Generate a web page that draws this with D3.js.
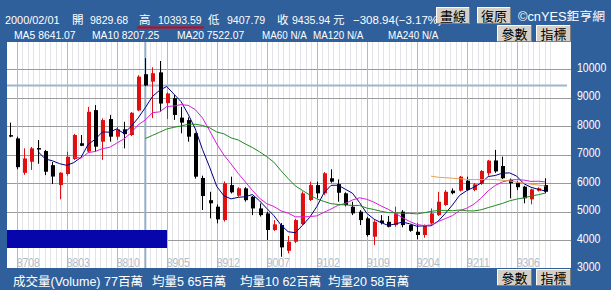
<!DOCTYPE html>
<html lang="zh-Hant">
<head>
<meta charset="UTF-8">
<title>加權指數 月線</title>
<script src="https://d3js.org/d3.v7.min.js"></script>
<style>
  body { margin: 0; background: #30609c; }
  svg text { font-family: "Liberation Sans", "Noto Sans CJK TC", sans-serif; }
</style>
</head>
<body>
<svg id="chart" width="611" height="290"></svg>
<script>
// monthly candles, ROC year + month
const months = [
  "8707","8708","8709","8710","8711","8712",
  "8801","8802","8803","8804","8805","8806","8807","8808","8809","8810","8811","8812",
  "8901","8902","8903","8904","8905","8906","8907","8908","8909","8910","8911","8912",
  "9001","9002","9003","9004","9005","9006","9007","9008","9009","9010","9011","9012",
  "9101","9102","9103","9104","9105","9106","9107","9108","9109","9110","9111","9112",
  "9201","9202","9203","9204","9205","9206","9207","9208","9209","9210","9211","9212",
  "9301","9302","9303","9304","9305","9306","9307","9308","9309","9310"
];
const open = [7690,7575,6365,6755,7235,7130,6635,5935,6325,6850,
  7405,7115,8570,7460,8255,7635,7895,7695,8560,9830,
  9570,9895,8815,8990,8305,8220,7755,6185,5405,5175,
  4705,5935,5560,5820,5525,5115,4940,4355,4530,3625,
  3945,4565,5410,5935,5645,6175,5970,5645,5175,5000,
  4765,4120,4690,4645,4530,5000,4530,4295,4180,4590,
  4880,5235,5740,5740,6090,5760,5975,6350,6800,6605,
  6115,6020,5880,5435,5740,5935];
const high = [8130,7635,7225,7275,7515,7170,6745,6385,7110,7735,
  7695,8685,8745,8280,8400,7980,8160,8505,9795,10394,
  10075,10295,9190,9100,8685,8315,7775,6265,5700,5255,
  6065,6230,5860,5860,5555,5290,5000,4705,4600,4145,
  4750,5710,6055,6055,6395,6490,6135,5680,5350,5055,
  4820,4700,4880,4850,5175,5055,4550,4590,4550,5115,
  5700,5760,5820,6255,6230,6010,6465,6820,7170,6935,
  6165,6065,5910,5810,5860,6175];
const low = [7615,6490,6295,6465,6685,6285,5970,5435,6265,6815,
  7305,7075,7110,6820,7460,7525,7225,7655,8530,9408,
  8285,8515,8260,8225,7755,7460,6165,5060,4765,4590,
  4650,5640,5525,5355,4880,4830,4005,4325,3415,3535,
  3895,4530,5375,5470,5590,6015,5350,5185,4880,4530,
  4125,3825,4550,4450,4470,4450,4295,4030,4085,4550,
  4850,5205,5610,5710,5740,5720,5940,6265,6365,6145,
  5470,5760,5295,5260,5710,5645];
const close = [7670,6565,6870,7225,7200,6405,6235,6370,6930,7695,
  7315,8510,7285,8220,7635,7895,7725,8475,9745,9436,
  9865,8800,9155,8400,8130,7635,6230,5550,5295,4730,
  5995,5680,5820,5405,5115,4880,4355,4555,3745,3945,
  4705,5645,5935,5645,6350,6055,5665,5235,4940,4705,
  4180,4645,4600,4470,4940,4530,4330,4180,4530,4940,
  5350,5700,5650,6230,5760,5960,6430,6795,6415,6175,
  6000,5860,5470,5785,5820,5700];

const tickLabels = ["8708","8803","8810","8905","8912","9007","9102","9109","9204","9211","9306"];
const priceTicks = [3000,4000,5000,6000,7000,8000,9000,10000];

const maPeriods = [5, 10, 20, 60];
const maColors = ["#000080", "#d81ed8", "#1f8a1f", "#e3a452"];
const maHeader = ["MA5 8641.07", "MA10 8207.25", "MA20 7522.07", "MA60 N/A", "MA120 N/A", "MA240 N/A"];
const volText = ["成交量(Volume) 77百萬", "均量5 65百萬", "均量10 62百萬", "均量20 58百萬"];

const selDate = "2000/02/01";
const selIdx = 19;
const prevClose = 9744.88;
const selOHLC = [9829.68, 10393.59, 9407.79, 9435.94];

const svg = d3.select("#chart");
const W = 611, H = 290;
const plot = { left: 7, right: 571, top: 42, bottom: 268 };

const x = d3.scalePoint().domain(months).range([9.6, 545.3]);
const y = d3.scaleLinear().domain([3000, 10000]).range([268.6, 69.4]);

svg.append("rect").attr("width", W).attr("height", H).attr("fill", "#30609c");
svg.append("rect")
  .attr("x", plot.left).attr("y", plot.top)
  .attr("width", plot.right - plot.left).attr("height", plot.bottom - plot.top)
  .attr("fill", "#fff");

svg.append("clipPath").attr("id", "clip").append("rect")
  .attr("x", plot.left).attr("y", plot.top)
  .attr("width", plot.right - plot.left).attr("height", plot.bottom - plot.top);

const g = svg.append("g").attr("clip-path", "url(#clip)");

// thin vertical lines
const step = (x(months[8]) - x(months[1])) / 9;
g.selectAll(".minor")
  .data(d3.range(0, 97))
  .enter().append("line")
  .attr("x1", d => Math.round(x(months[1]) + d * step) + 0.5)
  .attr("x2", d => Math.round(x(months[1]) + d * step) + 0.5)
  .attr("y1", plot.top).attr("y2", plot.bottom)
  .attr("stroke", "#e3e4ea").attr("stroke-width", 1);

// horizontal grid
g.selectAll(".hgrid")
  .data(priceTicks)
  .enter().append("line")
  .attr("x1", plot.left).attr("x2", plot.right)
  .attr("y1", d => Math.round(y(d)) + 0.5).attr("y2", d => Math.round(y(d)) + 0.5)
  .attr("stroke", "#9a9a9a");

// major vertical grid
g.selectAll(".vgrid")
  .data(tickLabels)
  .enter().append("line")
  .attr("x1", d => Math.round(x(d)) + 0.5).attr("x2", d => Math.round(x(d)) + 0.5)
  .attr("y1", plot.top).attr("y2", plot.bottom)
  .attr("stroke", "#a9bccd");

// crosshair
g.append("line")
  .attr("x1", x(months[selIdx])).attr("x2", x(months[selIdx]))
  .attr("y1", plot.top).attr("y2", plot.bottom)
  .attr("stroke", "#95aec6").attr("stroke-width", 2);
g.append("line")
  .attr("x1", plot.left).attr("x2", 567)
  .attr("y1", y(close[selIdx])).attr("y2", y(close[selIdx]))
  .attr("stroke", "#9fb5ca").attr("stroke-width", 2);

// bottom-left blue bar
svg.append("rect")
  .attr("x", plot.left).attr("y", 230).attr("width", 160).attr("height", 18)
  .attr("fill", "#0606aa");

// x labels
svg.selectAll(".xlab")
  .data(tickLabels)
  .enter().append("text")
  .attr("x", d => x(d)).attr("y", 266.5)
  .attr("font-size", 13)
  .attr("textLength", 23).attr("lengthAdjust", "spacingAndGlyphs")
  .attr("fill", "#b2bac6")
  .text(d => d);

// candles
const candles = months.map((m, i) => ({ m, o: open[i], h: high[i], l: low[i], c: close[i] }));
const cg = g.selectAll(".candle").data(candles).enter().append("g");
cg.append("line")
  .attr("x1", d => Math.round(x(d.m)) + 0.5).attr("x2", d => Math.round(x(d.m)) + 0.5)
  .attr("y1", d => y(d.h)).attr("y2", d => y(d.l))
  .attr("stroke", d => d.c >= d.o ? "#e01010" : "#000");
cg.append("rect")
  .attr("x", d => Math.round(x(d.m)) - 1)
  .attr("width", 4)
  .attr("y", d => y(Math.max(d.o, d.c)))
  .attr("height", d => Math.max(1.5, Math.abs(y(d.o) - y(d.c))))
  .attr("fill", d => d.c >= d.o ? "#e01010" : "#000");

// moving averages
maPeriods.forEach((n, k) => {
  const vals = close.map((c, i) => i < n - 1 ? null : d3.mean(close.slice(i - n + 1, i + 1)));
  const line = d3.line()
    .defined(d => d[1] !== null)
    .x(d => x(d[0]))
    .y(d => y(d[1]));
  g.append("path")
    .datum(months.map((m, i) => [m, vals[i]]))
    .attr("d", line)
    .attr("fill", "none")
    .attr("stroke", maColors[k])
    .attr("stroke-width", 1);
});

// right axis labels
svg.selectAll(".ylab")
  .data(priceTicks)
  .enter().append("text")
  .attr("x", 577).attr("y", d => y(d) + 2.5)
  .attr("font-size", 12.5)
  .attr("textLength", d => String(d).length * 5.85).attr("lengthAdjust", "spacingAndGlyphs")
  .attr("fill", "#fff")
  .text(d => d);

// ascii runs squeezed to the narrow bitmap-font width
function narrow(sel, per) {
  sel.each(function(d) {
    const t = d[0];
    const cjk = (t.match(/[^\x00-\x7f]/g) || []).length;
    if (cjk === 0) d3.select(this).attr("textLength", t.length * per).attr("lengthAdjust", "spacingAndGlyphs");
  });
}

// header row 1
const fmt = d3.format(".2f");
const chg = selOHLC[3] - prevClose;
const row1 = [
  [selDate, 5], ["開", 72], [fmt(selOHLC[0]), 90], ["高", 139], [fmt(selOHLC[1]), 158],
  ["低", 208], [fmt(selOHLC[2]), 227], ["收", 277], [fmt(selOHLC[3]), 292], ["元", 333],
  [fmt(chg) + "(" + fmt(chg / prevClose * 100) + "%)", 353]
];
svg.selectAll(".row1")
  .data(row1)
  .enter().append("text")
  .attr("x", d => d[1]).attr("y", 23.5)
  .attr("font-size", 11.5)
  .attr("fill", "#fff")
  .text(d => d[0])
  .call(narrow, 5.45);
svg.append("line")
  .attr("x1", 137).attr("x2", 204).attr("y1", 27.5).attr("y2", 27.5)
  .attr("stroke", "#e00000").attr("stroke-width", 2);

// header row 2
const row2x = [14, 92, 177, 262, 313, 388];
svg.selectAll(".row2")
  .data(maHeader.map((t, i) => [t, row2x[i]]))
  .enter().append("text")
  .attr("x", d => d[1]).attr("y", 38.5)
  .attr("font-size", 10.5)
  .attr("fill", "#fff")
  .text(d => d[0])
  .call(narrow, 5.6);

// bottom volume row
const volX = [13, 152, 240, 328];
svg.selectAll(".vol")
  .data(volText)
  .enter().append("text")
  .attr("x", (d, i) => volX[i]).attr("y", 285.5)
  .attr("font-size", 12.5)
  .attr("fill", "#fff")
  .text(d => d);

// buttons
function button(bx, by, bw, bh, label) {
  const b = svg.append("g");
  b.append("rect").attr("x", bx).attr("y", by).attr("width", bw).attr("height", bh).attr("fill", "#d4d0c8");
  b.append("path").attr("d", `M${bx + 0.5},${by + bh}V${by + 0.5}H${bx + bw}`).attr("stroke", "#fff").attr("fill", "none");
  b.append("path").attr("d", `M${bx},${by + bh - 0.5}H${bx + bw - 0.5}V${by}`).attr("stroke", "#808080").attr("fill", "none");
  b.append("text").attr("x", bx + bw / 2).attr("y", by + bh - 3.5)
    .attr("text-anchor", "middle").attr("font-size", 13).attr("fill", "#000")
    .text(label);
}
button(436, 7, 34, 17, "畫線");
button(477, 7, 34, 17, "復原");
button(497, 25, 35, 17, "參數");
button(536, 25, 35, 17, "指標");
button(497, 269, 35, 17, "參數");
button(536, 269, 35, 17, "指標");

svg.append("text").attr("x", 518).attr("y", 21).attr("font-size", 12)
  .attr("textLength", 87).attr("lengthAdjust", "spacingAndGlyphs")
  .attr("fill", "#fff").text("©cnYES鉅亨網");
</script>
</body>
</html>
